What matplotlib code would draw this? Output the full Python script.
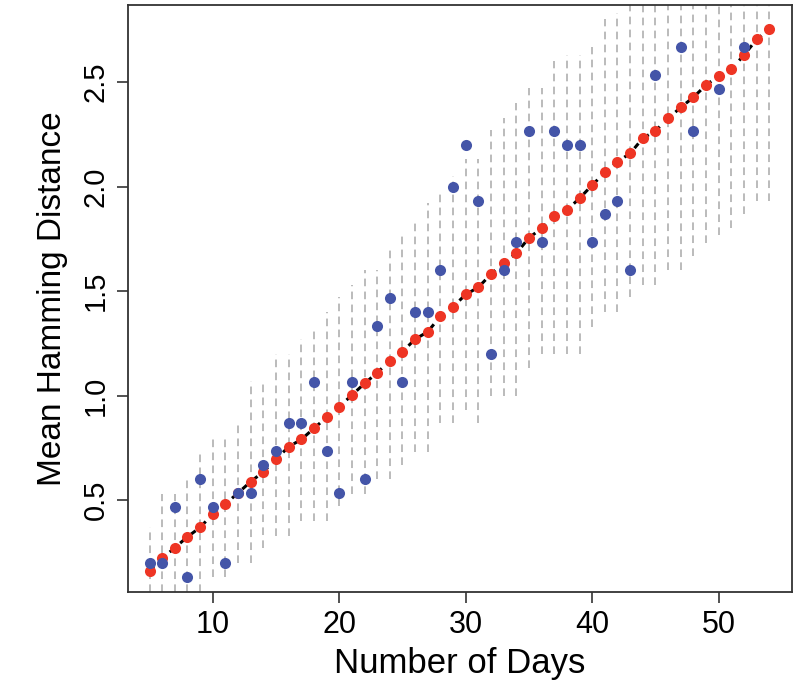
import matplotlib
matplotlib.use("Agg")
import matplotlib.pyplot as plt

plt.rcParams['font.family'] = ['Liberation Sans', 'DejaVu Sans']

# day index, model curve (red) and observed means (blue)
days = list(range(5, 55))
model = [0.162, 0.221, 0.272, 0.324, 0.369, 0.433, 0.481, 0.534, 0.588, 0.635,
         0.695, 0.755, 0.790, 0.843, 0.896, 0.947, 1.002, 1.058, 1.109, 1.167,
         1.210, 1.270, 1.305, 1.380, 1.425, 1.484, 1.518, 1.581, 1.636, 1.680,
         1.755, 1.800, 1.859, 1.888, 1.944, 2.007, 2.068, 2.119, 2.159, 2.231,
         2.267, 2.326, 2.379, 2.427, 2.486, 2.529, 2.562, 2.629, 2.704, 2.752]

obs_days = list(range(5, 44)) + [45, 47, 48, 50, 52]
obs = [0.200, 0.200, 0.467, 0.133, 0.600, 0.467, 0.200, 0.533, 0.533, 0.667,
       0.733, 0.867, 0.867, 1.067, 0.733, 0.533, 1.067, 0.600, 1.333, 1.467,
       1.067, 1.400, 1.400, 1.600, 2.000, 2.200, 1.933, 1.200, 1.600, 1.733,
       2.267, 1.733, 2.267, 2.200, 2.200, 1.733, 1.867, 1.933, 1.600,
       2.533, 2.667, 2.267, 2.467, 2.667]

# simulated range per day (gray dashed bars)
band_lo = [0.0, 0.0, 0.0, 0.0, 0.0, 0.13, 0.13, 0.2, 0.2, 0.27,
           0.33, 0.33, 0.4, 0.4, 0.4, 0.47, 0.53, 0.53, 0.6, 0.6,
           0.67, 0.73, 0.73, 0.87, 0.87, 0.93, 0.87, 1.0, 1.0, 1.0,
           1.13, 1.2, 1.2, 1.2, 1.2, 1.33, 1.4, 1.4, 1.47, 1.53,
           1.53, 1.6, 1.6, 1.67, 1.73, 1.77, 1.8, 1.87, 1.93, 1.93]
band_hi = [0.37, 0.53, 0.53, 0.6, 0.73, 0.8, 0.8, 0.87, 1.07, 1.07,
           1.2, 1.2, 1.27, 1.33, 1.4, 1.47, 1.53, 1.6, 1.6, 1.7,
           1.77, 1.84, 1.92, 1.97, 2.05, 2.13, 2.13, 2.27, 2.33, 2.4,
           2.47, 2.47, 2.6, 2.63, 2.63, 2.67, 2.8, 2.83, 2.93, 3.0,
           3.07, 3.13, 3.2, 3.27, 3.33, 3.4, 3.47, 3.53, 3.6, 3.67]

fig = plt.figure(figsize=(8, 6.86), dpi=100)
ax = fig.add_axes([0.16, 0.137, 0.83, 0.856])

ax.vlines(days, band_lo, band_hi, colors='#a8a8a8', linewidth=1.1,
          linestyles=(0, (5, 3.5)), zorder=1)
ax.plot(days, model, color='black', lw=2.2, ls=(0, (2, 2.5)), zorder=2)
ax.plot(days, model, 'o', color='#ee3524', markersize=8, mec='none', zorder=3)
ax.plot(obs_days, obs, 'o', color='#4455a8', markersize=8, mec='none', zorder=4)

ax.set_xlim(3.3, 55.8)
ax.set_ylim(0.06, 2.87)
ax.set_xticks([10, 20, 30, 40, 50])
ax.set_yticks([0.5, 1.0, 1.5, 2.0, 2.5])
ax.set_yticklabels(['0.5', '1.0', '1.5', '2.0', '2.5'], rotation=90, va='center')
ax.tick_params(direction='out', length=8, width=1.2, labelsize=21, pad=5,
               color='#333333')
ax.tick_params(axis='x', labelsize=22)
for s in ax.spines.values():
    s.set_color('#333333')
    s.set_linewidth(1.3)

ax.set_xlabel('Number of Days', fontsize=25, labelpad=5)
ax.set_ylabel('Mean Hamming Distance', fontsize=24, labelpad=10)

fig.savefig('out.png', dpi=100)
